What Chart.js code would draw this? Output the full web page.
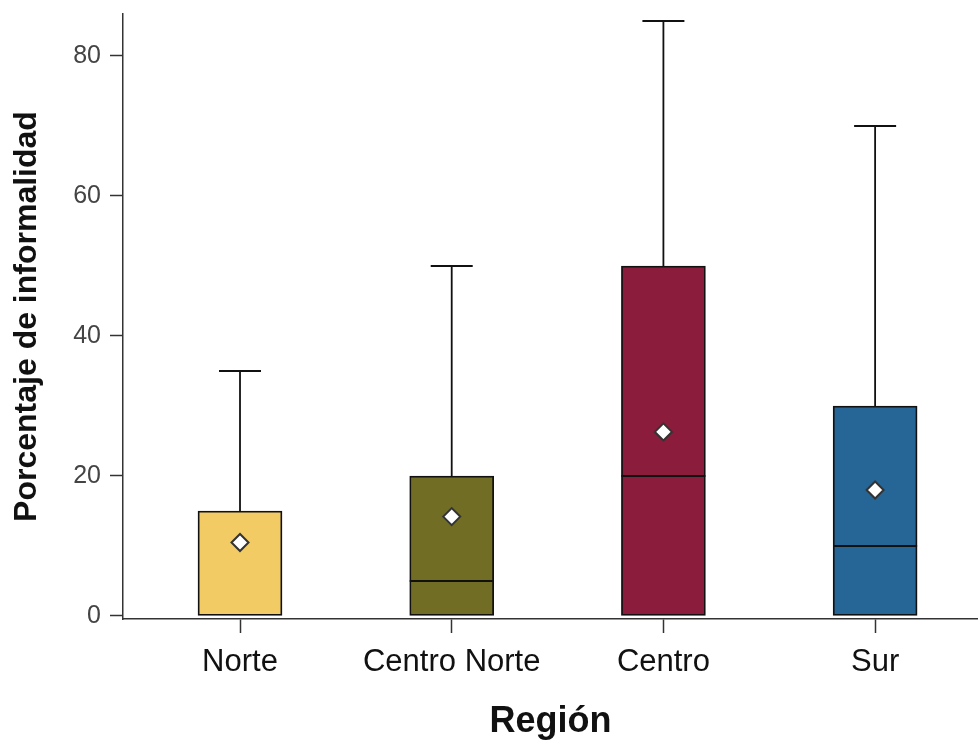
<!DOCTYPE html>
<html>
<head>
<meta charset="utf-8">
<script src="https://cdn.jsdelivr.net/npm/chart.js@4"></script>
<style>
  body { margin: 0; background: #fff; overflow: hidden; }
  #wrap { width: 978px; height: 742px; }
</style>
</head>
<body>
<div id="wrap"><canvas id="chart" width="978" height="742"></canvas></div>
<script>
"use strict"

// box plot data
const regions = ["Norte", "Centro Norte", "Centro", "Sur"];
const mins = [0, 0, 0, 0];
const q1s = [0, 0, 0, 0];
const medians = [0, 5, 20, 10];
const q3s = [15, 20, 50, 30];
const maxs = [35, 50, 85, 70];
const means = [10.5, 14.2, 26.3, 18];
const yTicks = [0, 20, 40, 60, 80];

const boxColors = ["#f2cb65", "#716d25", "#8b1c3c", "#266696"];

// whiskers + median lines, drawn through the scales
const boxLines = {
    id: "boxLines",
    afterDatasetsDraw(chart) {
        const ctx = chart.ctx;
        const xs = chart.scales.x;
        const ys = chart.scales.y;
        const capHalf = 21;
        const boxHalf = 42;
        ctx.save();
        ctx.strokeStyle = "#111";
        ctx.lineWidth = 1.8;
        regions.forEach((r, i) => {
            const x = xs.getPixelForValue(i);
            const yMax = ys.getPixelForValue(maxs[i]);
            const yQ3 = ys.getPixelForValue(q3s[i]);
            const yMin = ys.getPixelForValue(mins[i]);
            const yQ1 = ys.getPixelForValue(q1s[i]);
            const yMed = ys.getPixelForValue(medians[i]);
            ctx.beginPath();
            // upper whisker
            ctx.moveTo(x, yQ3);
            ctx.lineTo(x, yMax);
            ctx.moveTo(x - capHalf, yMax);
            ctx.lineTo(x + capHalf, yMax);
            // lower whisker
            if (yMin > yQ1) {
                ctx.moveTo(x, yQ1);
                ctx.lineTo(x, yMin);
                ctx.moveTo(x - capHalf, yMin);
                ctx.lineTo(x + capHalf, yMin);
            }
            // median, only when it is inside the box
            if (medians[i] > q1s[i] && medians[i] < q3s[i]) {
                ctx.moveTo(x - boxHalf, yMed);
                ctx.lineTo(x + boxHalf, yMed);
            }
            ctx.stroke();
        });
        ctx.restore();
    }
};

const data = {
    datasets: [
        {
            type: "scatter",
            label: "Media",
            data: regions.map((r, i) => ({ x: i, y: means[i] })),
            pointStyle: "rectRot",
            pointRadius: 8.5,
            pointBackgroundColor: "#fff",
            pointBorderColor: "#333",
            pointBorderWidth: 2,
            order: 0
        },
        {
            type: "bar",
            label: "Caja",
            data: regions.map((r, i) => ({ x: i, y: [q1s[i], q3s[i]] })),
            backgroundColor: boxColors,
            borderColor: "#111",
            borderWidth: 1.8,
            borderSkipped: false,
            barThickness: 84,
            order: 1
        }
    ]
};

const config = {
    data: data,
    options: {
        responsive: false,
        animation: false,
        layout: {
            autoPadding: false,
            padding: { top: 14, right: 0, left: 0, bottom: 0 }
        },
        plugins: {
            legend: { display: false },
            tooltip: { enabled: false }
        },
        scales: {
            x: {
                type: "linear",
                offset: false,
                min: -0.5527,
                max: 3.486,
                afterBuildTicks: (scale) => {
                    scale.ticks = regions.map((r, i) => ({ value: i }));
                },
                afterFit: (scale) => {
                    scale.height = 123;
                    scale.paddingLeft = 0;
                    scale.paddingRight = 0;
                },
                ticks: {
                    callback: (v) => regions[v],
                    color: "#111",
                    padding: 11,
                    maxRotation: 0,
                    font: { family: "Liberation Sans", size: 31 }
                },
                grid: {
                    offset: false,
                    drawOnChartArea: false,
                    drawTicks: true,
                    tickLength: 14,
                    tickWidth: 1.5,
                    tickColor: "#333"
                },
                border: { display: true, color: "#333", width: 1.5 },
                title: {
                    display: true,
                    text: "Región",
                    color: "#111",
                    padding: { top: 0, bottom: 1 },
                    font: { family: "Liberation Sans", size: 36, weight: "bold", lineHeight: 1.05 }
                }
            },
            y: {
                min: -0.43,
                max: 86,
                afterBuildTicks: (scale) => {
                    scale.ticks = yTicks.map(v => ({ value: v }));
                },
                afterFit: (scale) => {
                    scale.width = 123;
                    scale.paddingTop = 0;
                    scale.paddingBottom = 0;
                },
                ticks: {
                    color: "#444",
                    padding: 9,
                    font: { family: "Liberation Sans", size: 25 }
                },
                grid: {
                    drawOnChartArea: false,
                    drawTicks: true,
                    tickLength: 13,
                    tickWidth: 1.5,
                    tickColor: "#333"
                },
                border: { display: true, color: "#333", width: 1.5 },
                title: {
                    display: true,
                    text: "Porcentaje de informalidad",
                    color: "#111",
                    padding: { top: 8, bottom: 0 },
                    font: { family: "Liberation Sans", size: 32, weight: "bold" }
                }
            }
        }
    },
    plugins: [boxLines]
};

let ctx = document.querySelector("#chart");
let boxChart = new Chart(ctx, config);
</script>
</body>
</html>
